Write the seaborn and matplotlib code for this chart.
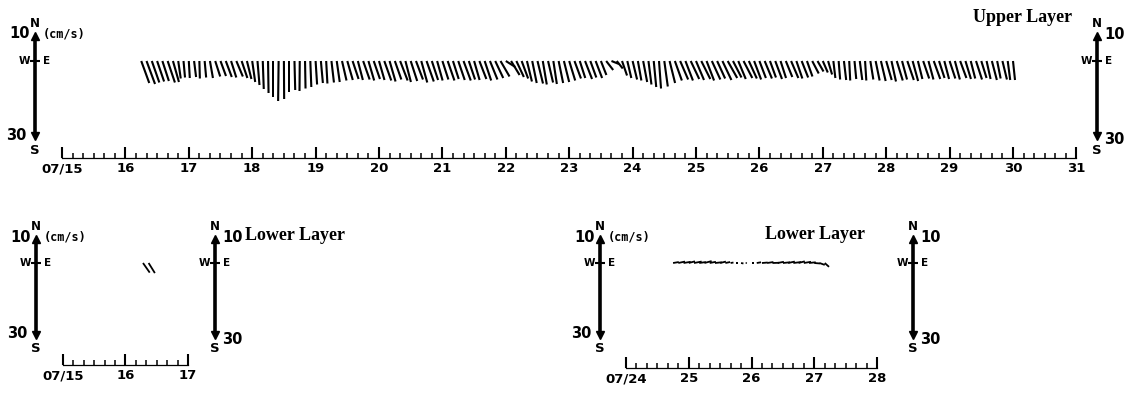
import numpy as np
import matplotlib
matplotlib.use("Agg")
import matplotlib.pyplot as plt
import seaborn as sns

sns.set_theme(style="white", rc={"axes.facecolor": "white", "figure.facecolor": "white"})
plt.rcParams["font.family"] = ["DejaVu Sans"]

# ---------------- data: current vectors (cm/s), east = u, north = v ----------------
# Upper layer, 2-hourly records starting 16 Jul 06:00
upper_start_day = 16.25
sample_step_day = 1 / 12
upper_u = [
    3.2, 3.4, 3.0, 2.8, 2.6, 2.9, 2.4, 1.0, 0.6,
    0.4, 0.8, 0.2, 0.6, 1.2, 2.0, 2.2, 2.4, 2.1, 2.6, 2.3, 1.8,
    1.2, 0.8, 0.4, 0.2, 0.0, -0.2, 0.1, 0.0, 0.3, -0.1, 0.2, 0.4,
    0.6, 0.8, 0.5, 1.0, 1.2, 1.8, 2.2, 2.4, 2.0, 2.6, 2.3, 2.5,
    2.2, 2.8, 2.4, 2.6, 3.0, 2.2, 2.6, 2.8, 2.4, 2.9, 2.5, 2.2,
    2.4, 2.7, 2.3, 2.6, 2.9, 2.5, 2.2, 2.8, 2.6, 3.0, 3.2, 3.6,
    3.8, 3.4, 3.0, 2.6, 2.0, 1.8, 2.2, 1.6, 2.0, 1.4, 1.8, 2.1,
    2.4, 2.6, 2.2, 2.8, 2.4, 2.6, 2.2, 2.8, 3.0, 2.4, 2.0, 1.6,
    1.8, 1.4, 1.6, 1.2, 1.0, 0.8, 1.4, 2.2, 2.8, 3.2, 3.0, 3.4,
    3.2, 3.6, 3.0, 3.4, 3.2, 3.6, 3.8, 3.4, 3.0, 3.5, 3.2, 2.8,
    2.6, 2.9, 2.4, 2.7, 2.2, 2.6, 2.9, 2.4, 2.6, 2.2, 2.6, 2.4,
    2.0, 1.6, 0.8, 0.6, 0.9, 0.4, 0.7, 1.0, 0.5, 1.2, 1.6, 1.9,
    2.2, 1.8, 2.4, 2.0, 2.6, 2.2, 1.8, 2.4, 2.0, 2.6, 2.2, 1.9,
    2.3, 2.0, 2.5, 2.2, 1.8, 2.4, 2.1, 1.6, 2.0, 1.4, 1.8, 1.0,
    0.8,
]
upper_v = [
    -8.8, -9.2, -8.6, -8.2, -8.0, -8.6, -8.4, -7.0, -6.6,
    -6.8, -6.4, -7.0, -6.6, -6.8, -6.2, -6.0, -6.4, -6.6, -6.2, -6.8, -7.2,
    -8.4, -9.6, -11.2, -12.8, -14.4, -16.0, -15.2, -12.4, -11.6, -12.0, -11.0, -10.4,
    -9.4, -8.8, -9.0, -8.6, -8.4, -7.8, -7.6, -7.2, -7.6, -7.4, -7.8, -7.2,
    -7.6, -7.8, -8.2, -7.4, -7.8, -8.4, -8.0, -7.4, -8.6, -8.2, -7.6, -7.8,
    -7.4, -7.8, -7.2, -7.6, -7.8, -7.4, -7.6, -7.2, -7.8, -7.4, -6.8, -6.2,
    -2.4, -5.6, -6.4, -7.0, -8.2, -8.8, -9.0, -9.4, -8.6, -9.2, -8.8, -8.4,
    -7.8, -7.0, -6.8, -7.2, -6.6, -6.8, -5.6, -3.6, -1.2, -3.0, -5.8, -6.8,
    -7.4, -7.8, -8.4, -9.4, -10.4, -11.0, -10.2, -8.8, -7.8, -7.4, -7.8, -7.2,
    -7.6, -7.2, -7.8, -7.4, -7.0, -7.6, -6.8, -6.6, -7.2, -6.8, -7.0, -7.4,
    -6.8, -7.0, -6.6, -7.2, -6.8, -6.4, -6.8, -7.0, -6.6, -6.2, -5.0, -4.2,
    -4.6, -5.4, -6.8, -7.4, -7.6, -7.8, -7.2, -7.6, -7.8, -7.4, -7.8, -8.0,
    -7.6, -8.2, -7.8, -7.4, -7.6, -8.0, -7.2, -7.0, -7.4, -7.2, -6.8, -7.2,
    -7.0, -7.4, -6.8, -7.2, -7.0, -7.4, -6.8, -7.2, -7.6, -7.0, -7.4, -7.6,
    -7.6,
]

# Lower layer, first deployment (only two records)
lower1_day = [16.28, 16.37]
lower1_u = [2.8, 2.6]
lower1_v = [-4.0, -4.2]

# Lower layer, second deployment, 2-hourly from 24 Jul 18:00
lower2_start_day = 24.75
lower2_u = [2.4, 2.8, 3.0, 2.6, 3.2, 2.8, 3.0, 2.6, 2.9, 2.4, 2.0, 1.2, 0.8, 1.0, 0.6,
            1.2, 1.8, 2.4, 2.6, 2.8, 2.6, 3.0, 2.8, 3.2, 2.6, 3.0, 2.8, 2.4, 2.2, 1.8]
lower2_v = [0.4, 0.6, 0.5, 0.7, 0.6, 0.4, 0.8, 0.5, 0.3, 0.6, 0.4, 0.2, 0.0, -0.2, 0.1,
            0.0, 0.3, 0.2, 0.4, 0.1, 0.5, 0.3, 0.6, 0.4, 0.7, 0.5, 0.3, -0.2, -0.8, -1.6]

# Date axes
upper_days = [15, 16, 17, 18, 19, 20, 21, 22, 23, 24, 25, 26, 27, 28, 29, 30, 31]
upper_labels = ["07/15", "16", "17", "18", "19", "20", "21", "22", "23",
                "24", "25", "26", "27", "28", "29", "30", "31"]
lower1_days = [15, 16, 17]
lower1_labels = ["07/15", "16", "17"]
lower2_days = [24, 25, 26, 27, 28]
lower2_labels = ["07/24", "25", "26", "27", "28"]

# ---------------- figure ----------------
W, H = 1139, 394
fig = plt.figure(figsize=(W / 100, H / 100), dpi=100)


def panel(left, right, top, bottom, x0_px, x0_day, px_per_day, zero_px, px_per_unit):
    """Axes placed in pixel space; x in days, y in cm/s."""
    ax = fig.add_axes([left / W, 1 - bottom / H, (right - left) / W, (bottom - top) / H])
    ax.set_xlim(x0_day + (left - x0_px) / px_per_day, x0_day + (right - x0_px) / px_per_day)
    ax.set_ylim(-(bottom - zero_px) / px_per_unit, (zero_px - top) / px_per_unit)
    ax.patch.set_alpha(0)
    sns.despine(ax=ax, left=True, top=True, right=True)
    ax.set_yticks([])
    ax.grid(False)
    return ax


def time_axis(ax, days, labels):
    sp = ax.spines["bottom"]
    sp.set_bounds(days[0], days[-1])
    sp.set_color("black")
    sp.set_linewidth(0.9)
    ax.set_xticks(days, labels)
    ax.set_xticks(np.arange(days[0], days[-1] + 1e-6, 1 / 6), minor=True)
    ax.tick_params(axis="x", which="both", bottom=True, direction="in", color="black")
    ax.tick_params(axis="x", which="major", length=8, width=1.5, pad=3,
                   labelsize=9.5, labelcolor="black")
    ax.tick_params(axis="x", which="minor", length=3.5, width=1.1)
    for lbl in ax.get_xticklabels():
        lbl.set_fontweight("bold")


def sticks(ax, t, u, v, lw):
    ax.quiver(t, np.zeros(len(t)), u, v, angles="uv", scale_units="y", scale=1,
              pivot="tail", units="dots", width=lw, headwidth=0, headlength=0,
              headaxislength=0, color="black", zorder=3, clip_on=False)


def lab(ax, s, xy, dx, dy, ha, size, family=None):
    kw = {} if family is None else {"family": family}
    ax.annotate(s, xy=xy, xytext=(dx, dy), textcoords="offset pixels", ha=ha,
                va="center", fontsize=size, fontweight="bold", color="black",
                annotation_clip=False, **kw)


def scale_bar(ax, xb, side, units=False):
    ax.plot([xb, xb], [-30, 10], color="black", lw=2.6, solid_capstyle="butt",
            clip_on=False, zorder=4)
    ax.plot([xb], [10], marker="^", ms=5.5, color="black", clip_on=False, zorder=4)
    ax.plot([xb], [-30], marker="v", ms=5.5, color="black", clip_on=False, zorder=4)
    ax.plot([xb], [0], marker="_", ms=7, mew=1.5, color="black", clip_on=False, zorder=4)
    lab(ax, "N", (xb, 10), 0, 12, "center", 8.5)
    lab(ax, "S", (xb, -30), 0, -14, "center", 9.5)
    lab(ax, "W", (xb, 0), -11, 0, "center", 7.5)
    lab(ax, "E", (xb, 0), 12, 0, "center", 7.5)
    if side == "left":
        lab(ax, "10", (xb, 10), -5, 2, "right", 10.5)
        lab(ax, "30", (xb, -30), -9, 1, "right", 10.5)
        if units:
            lab(ax, "(cm/s)", (xb, 10), 8, 2, "left", 8.5, family=["DejaVu Sans Mono"])
    else:
        lab(ax, "10", (xb, 10), 7, 1, "left", 10.5)
        lab(ax, "30", (xb, -30), 7, -4, "left", 10.5)


# Upper layer
ax_u = panel(5, 1135, 2, 158, 62, 15, 63.4, 61, 2.5)
time_axis(ax_u, upper_days, upper_labels)
upper_t = upper_start_day + sample_step_day * np.arange(len(upper_u))
sticks(ax_u, upper_t, upper_u, upper_v, 2.1)
scale_bar(ax_u, 15 + (35 - 62) / 63.4, "left", units=True)
scale_bar(ax_u, 15 + (1097 - 62) / 63.4, "right")

# Lower layer, first deployment
ax_l1 = panel(2, 250, 215, 365, 63, 15, 62.5, 263, 2.4)
time_axis(ax_l1, lower1_days, lower1_labels)
sticks(ax_l1, np.array(lower1_day), lower1_u, lower1_v, 1.8)
scale_bar(ax_l1, 15 + (36 - 63) / 62.5, "left", units=True)
scale_bar(ax_l1, 15 + (215 - 63) / 62.5, "right")

# Lower layer, second deployment
ax_l2 = panel(565, 950, 215, 368, 626, 24, 62.75, 263, 2.4)
time_axis(ax_l2, lower2_days, lower2_labels)
lower2_t = lower2_start_day + sample_step_day * np.arange(len(lower2_u))
sticks(ax_l2, lower2_t, lower2_u, lower2_v, 1.8)
scale_bar(ax_l2, 24 + (600 - 626) / 62.75, "left", units=True)
scale_bar(ax_l2, 24 + (913 - 626) / 62.75, "right")

# Layer titles
title_kw = dict(fontsize=13, fontweight="bold", family=["Liberation Serif"], color="black",
                va="center")
fig.text(1072 / W, 1 - 17 / H, "Upper Layer", ha="right", **title_kw)
fig.text(245 / W, 1 - 236 / H, "Lower Layer", ha="left", **title_kw)
fig.text(765 / W, 1 - 235 / H, "Lower Layer", ha="left", **title_kw)

fig.savefig("out.png", dpi=100, facecolor="white")
